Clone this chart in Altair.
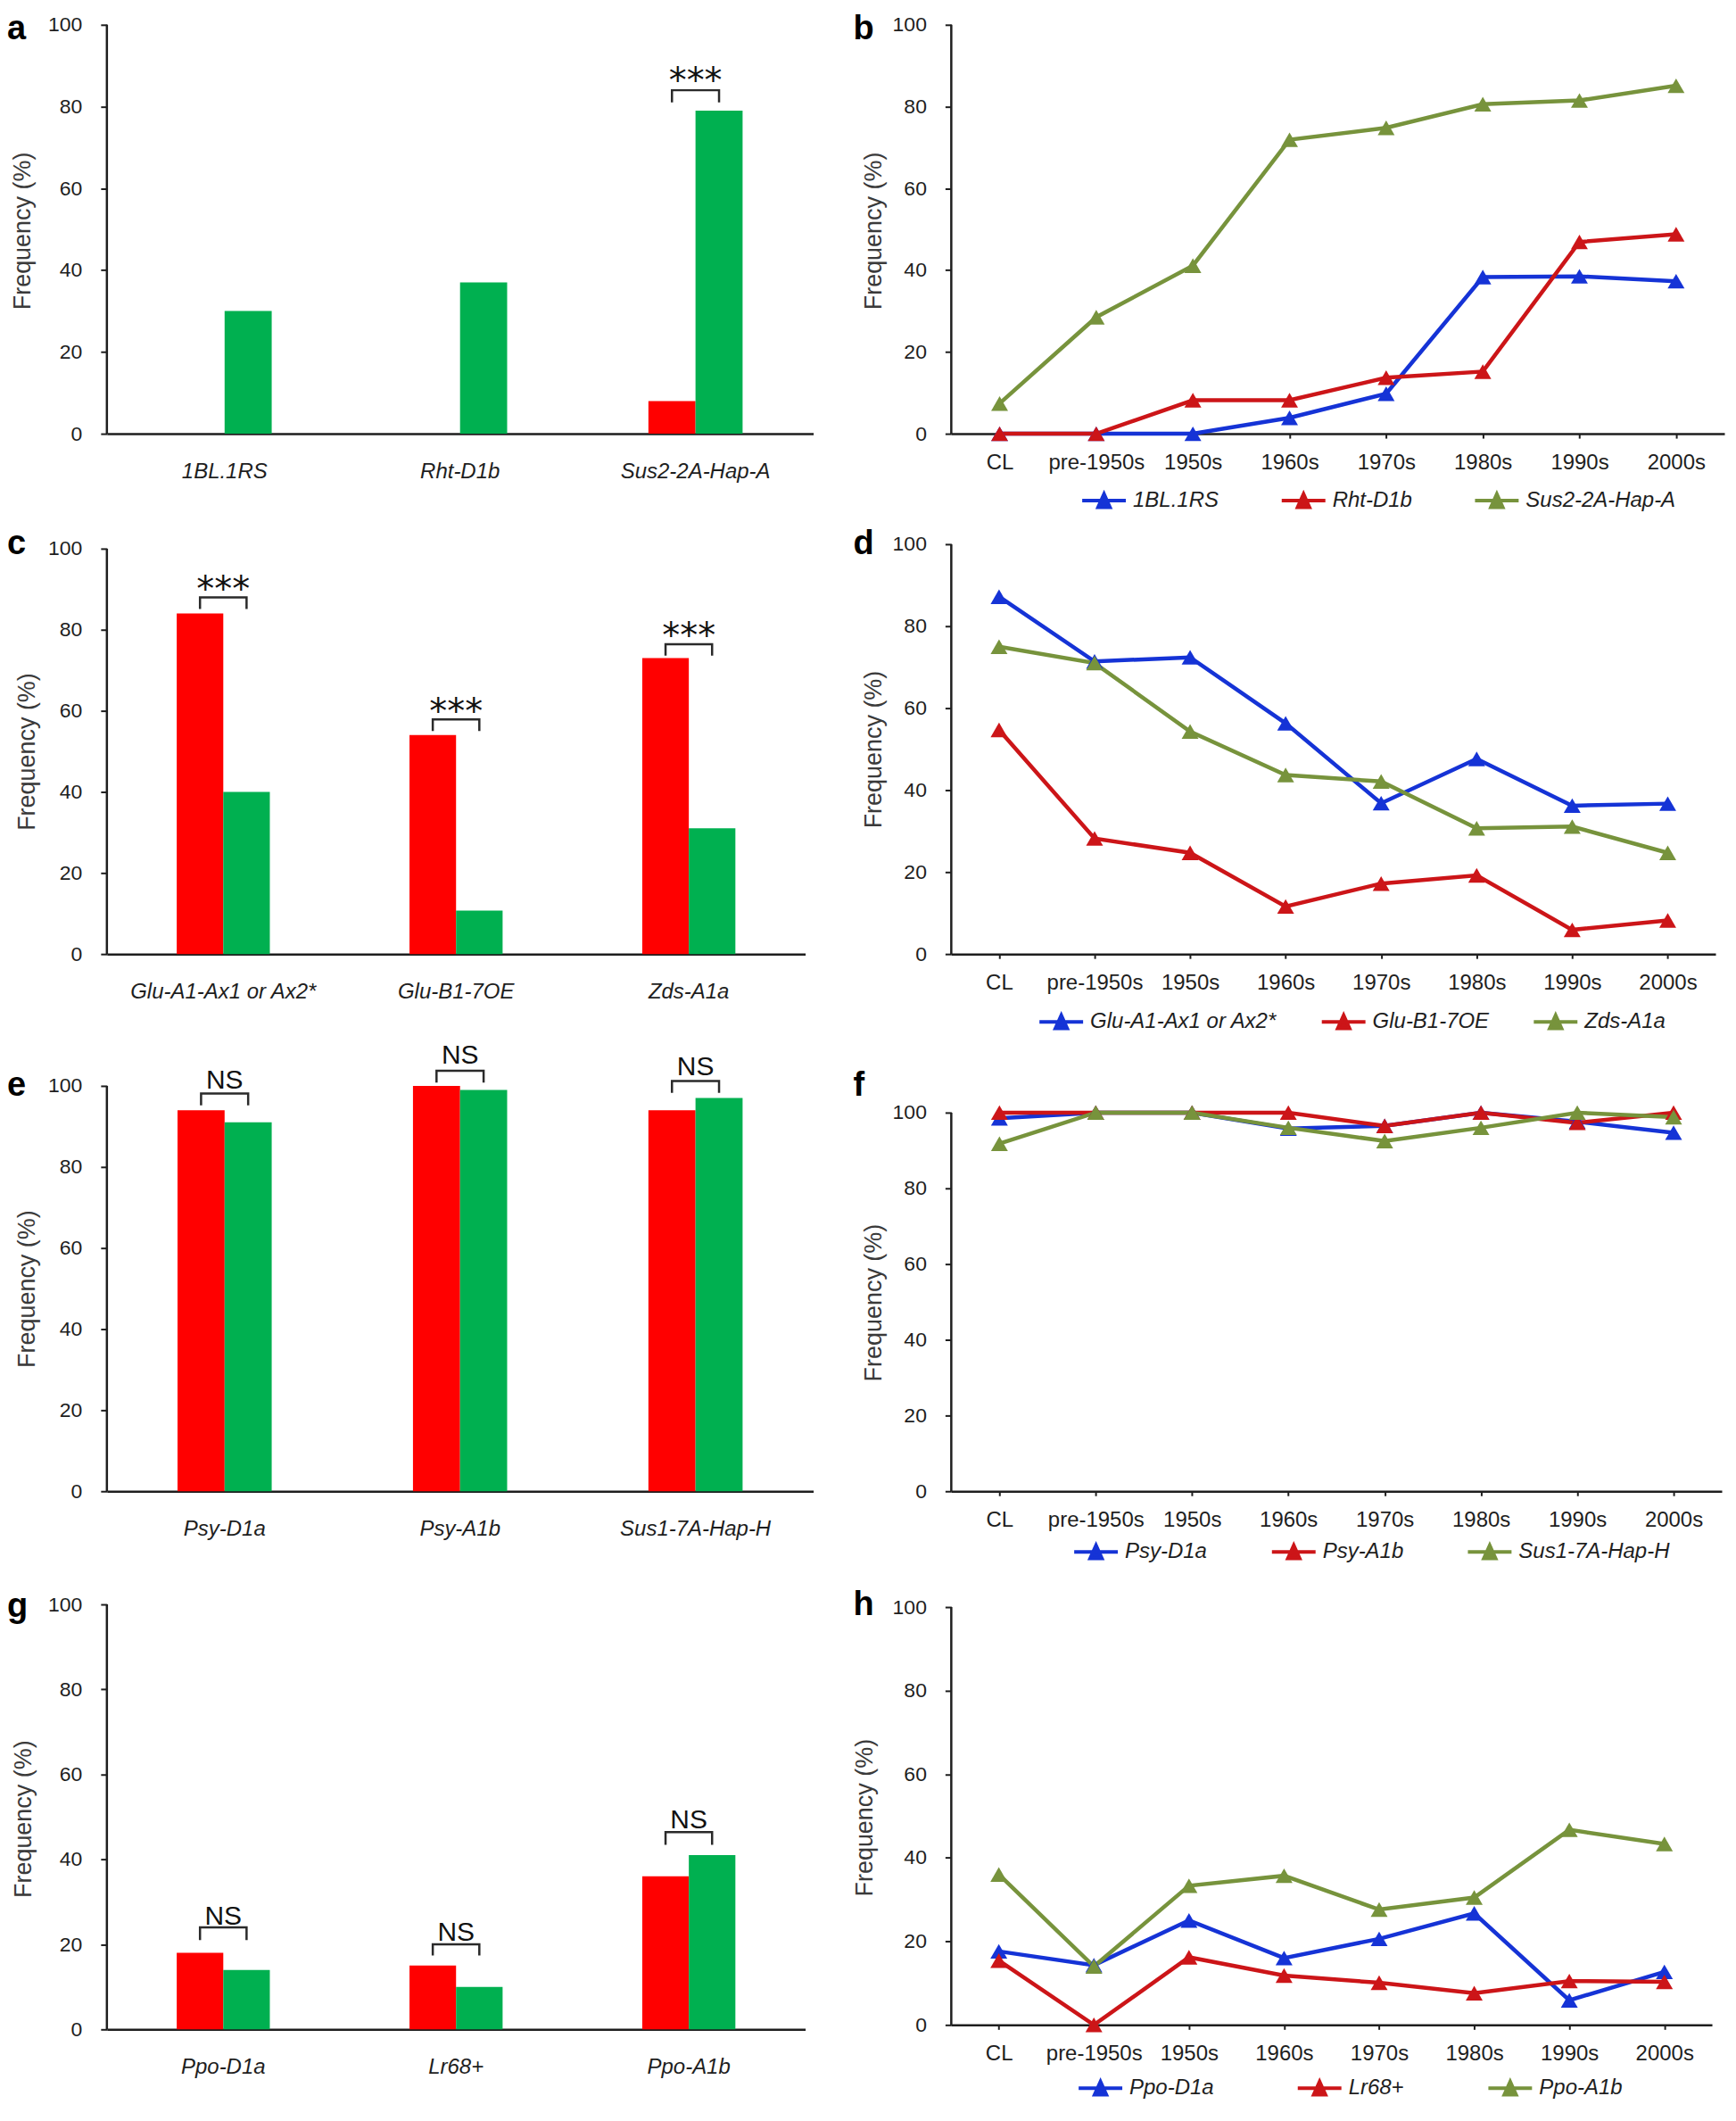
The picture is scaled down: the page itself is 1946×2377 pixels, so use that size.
import altair as alt
import pandas as pd

FONT = "Liberation Sans"
DARK = "#1e1e1e"
TITLE_C = "#3a3a3a"
BAR_RED = "#FF0000"
BAR_GREEN = "#00B050"
LINE_COLORS = ["#1533D6", "#CC1518", "#77933C"]
YTICKS = [0, 20, 40, 60, 80, 100]

decades = ["CL", "pre-1950s", "1950s", "1960s", "1970s", "1980s", "1990s", "2000s"]

# ---- panel a ----
a_genes = ["1BL.1RS", "Rht-D1b", "Sus2-2A-Hap-A"]
a_red = [0, 0, 8]
a_green = [30, 37, 79]
a_br_cat = ["Sus2-2A-Hap-A"]
a_br_top = [84]
a_br_bot = [81]
a_br_txt = ["***"]
a_br_ty = [86.7]

# ---- panel b ----
b_series = ["1BL.1RS", "Rht-D1b", "Sus2-2A-Hap-A"]
b_s1 = [0, 0, 0, 3.9, 9.8, 38.3, 38.5, 37.3]
b_s2 = [0, 0, 8.2, 8.2, 13.7, 15.2, 46.9, 48.8]
b_s3 = [7.4, 28.5, 41.1, 71.9, 74.8, 80.6, 81.5, 85.1]

# ---- panel c ----
c_genes = ["Glu-A1-Ax1 or Ax2*", "Glu-B1-7OE", "Zds-A1a"]
c_red = [84, 54, 73]
c_green = [40, 10.7, 31]
c_br_cat = ["Glu-A1-Ax1 or Ax2*", "Glu-B1-7OE", "Zds-A1a"]
c_br_top = [88, 57.9, 76.4]
c_br_bot = [85.1, 55, 73.6]
c_br_txt = ["***", "***", "***"]
c_br_ty = [90.5, 60.3, 78.9]

# ---- panel d ----
d_series = ["Glu-A1-Ax1 or Ax2*", "Glu-B1-7OE", "Zds-A1a"]
d_s1 = [87.2, 71.4, 72.4, 56.3, 36.8, 47.6, 36.2, 36.7]
d_s2 = [54.7, 28.2, 24.7, 11.6, 17.2, 19.2, 5.9, 8.2]
d_s3 = [75.0, 71.0, 54.3, 43.7, 42.1, 30.7, 31.1, 24.7]

# ---- panel e ----
e_genes = ["Psy-D1a", "Psy-A1b", "Sus1-7A-Hap-H"]
e_red = [94, 100, 94]
e_green = [91, 99, 97]
e_br_cat = ["Psy-D1a", "Psy-A1b", "Sus1-7A-Hap-H"]
e_br_top = [98.1, 103.7, 101.2]
e_br_bot = [95.2, 100.8, 98.3]
e_br_txt = ["NS", "NS", "NS"]
e_br_ty = [101.7, 107.9, 105.0]

# ---- panel f ----
f_series = ["Psy-D1a", "Psy-A1b", "Sus1-7A-Hap-H"]
f_s1 = [98.5, 100, 100, 95.8, 96.5, 100, 97.6, 94.7]
f_s2 = [100, 100, 100, 100, 96.5, 100, 97.3, 100]
f_s3 = [91.8, 100, 100, 96.0, 92.5, 96.0, 100, 98.8]

# ---- panel g ----
g_genes = ["Ppo-D1a", "Lr68+", "Ppo-A1b"]
g_red = [18, 15, 36]
g_green = [14, 10, 41]
g_br_cat = ["Ppo-D1a", "Lr68+", "Ppo-A1b"]
g_br_top = [24, 20, 46.4]
g_br_bot = [21, 17.4, 43.4]
g_br_txt = ["NS", "NS", "NS"]
g_br_ty = [26.9, 23.1, 49.6]

# ---- panel h ----
h_series = ["Ppo-D1a", "Lr68+", "Ppo-A1b"]
h_s1 = [17.6, 14.3, 25.0, 16.0, 20.6, 26.7, 5.9, 12.7]
h_s2 = [15.4, 0, 16.2, 11.8, 10.1, 7.6, 10.5, 10.3]
h_s3 = [36.0, 14.0, 33.3, 35.7, 27.6, 30.5, 46.7, 43.3]

LEG_PATH = "M-1,0L1,0M-0.27,0.3L0,-0.3L0.27,0.3Z"


def y_axis(title_x, title_y):
    return alt.Axis(title="Frequency (%)", values=YTICKS, domain=False, grid=False,
                    tickSize=7, tickWidth=2, tickColor=DARK,
                    labelFont=FONT, labelFontSize=23, labelColor=DARK, labelPadding=21,
                    titleFont=FONT, titleFontSize=27, titleFontWeight="normal",
                    titleColor=TITLE_C, titleAngle=-90, titleAlign="center",
                    titleBaseline="middle", titleX=title_x, titleY=title_y)


def letter_layer(letter, lx, ly):
    return alt.Chart(pd.DataFrame({"t": [letter]})).mark_text(
        font=FONT, fontSize=38, fontWeight="bold", align="left",
        baseline="alphabetic", color="black").encode(
        x=alt.value(lx), y=alt.value(ly), text="t:N")


def bar_panel(letter, cats, red, green, br_cat, br_top, br_bot, br_txt, br_ty,
              width, height, ymax, tx, ty, lx, ly):
    xs = alt.Scale(type="band", paddingInner=0.6, paddingOuter=0.3)
    ys = alt.Scale(domain=[0, ymax], nice=False, zero=False)
    xaxis = alt.Axis(title=None, labelAngle=0, labelFont=FONT, labelFontSize=24,
                     labelFontStyle="italic", labelColor=DARK, labelPadding=30,
                     labelLimit=500, ticks=False, tickSize=0, domainColor=DARK,
                     domainWidth=2.5, labelOverlap=False)
    yaxis = y_axis(tx, ty)
    n = len(cats)
    bars_df = pd.DataFrame({"cat": cats + cats, "grp": ["R"] * n + ["G"] * n,
                            "val": red + green})
    rows = []
    for c, t, b in zip(br_cat, br_top, br_bot):
        rows += [(c, "R", b, 0), (c, "R", t, 1), (c, "G", t, 2), (c, "G", b, 3)]
    br_df = pd.DataFrame(rows, columns=["cat", "grp", "yv", "ord"])
    txt_df = pd.DataFrame({"cat": br_cat, "txt": br_txt, "ty": br_ty})

    rule = alt.Chart(pd.DataFrame({"y0": [0], "y1": [100]})).mark_rule(
        color=DARK, strokeWidth=2.5).encode(
        x=alt.value(0), y=alt.Y("y0:Q", scale=ys, axis=yaxis), y2="y1:Q")
    bars = alt.Chart(bars_df).mark_bar().encode(
        x=alt.X("cat:N", sort=cats, scale=xs, axis=xaxis),
        xOffset=alt.XOffset("grp:N", sort=["R", "G"],
                            scale=alt.Scale(paddingInner=0, paddingOuter=0)),
        y=alt.Y("val:Q", scale=ys, axis=yaxis),
        color=alt.Color("grp:N", scale=alt.Scale(domain=["R", "G"],
                                                 range=[BAR_RED, BAR_GREEN]),
                        legend=None))
    brackets = alt.Chart(br_df).mark_line(color="#2a2a2a", strokeWidth=2.5).encode(
        x=alt.X("cat:N", sort=cats, scale=xs, axis=xaxis),
        xOffset=alt.XOffset("grp:N", sort=["R", "G"]),
        y=alt.Y("yv:Q", scale=ys, axis=yaxis),
        detail="cat:N", order="ord:Q")
    is_star = br_txt[0] == "***"
    texts = alt.Chart(txt_df).mark_text(
        font="DejaVu Sans" if is_star else FONT,
        fontSize=40 if is_star else 30,
        dy=2.5 if is_star else 2, baseline="middle", color="#111111").encode(
        x=alt.X("cat:N", sort=cats, scale=xs, axis=xaxis),
        y=alt.Y("ty:Q", scale=ys, axis=yaxis), text="txt:N")
    return alt.layer(rule, bars, brackets, texts, letter_layer(letter, lx, ly)).properties(
        width=width, height=height)


def line_panel(letter, series, s1, s2, s3, width, height, ymax, tx, ty, lx, ly,
               legx, legy, colpad):
    xs = alt.Scale(type="point", padding=0.5)
    ys = alt.Scale(domain=[0, ymax], nice=False, zero=False)
    xaxis = alt.Axis(title=None, labelAngle=0, labelFont=FONT, labelFontSize=24,
                     labelColor=DARK, labelPadding=15, labelOverlap=False,
                     tickSize=5, tickWidth=2, tickColor=DARK,
                     domainColor=DARK, domainWidth=2.5)
    yaxis = y_axis(tx, ty)
    df = pd.DataFrame({
        "dec": decades * 3,
        "series": [series[0]] * 8 + [series[1]] * 8 + [series[2]] * 8,
        "val": s1 + s2 + s3,
    })
    legend = alt.Legend(title=None, orient="none", legendX=legx, legendY=legy,
                        direction="horizontal", symbolType=LEG_PATH, symbolSize=2401,
                        symbolStrokeWidth=4, symbolOpacity=1, labelFont=FONT,
                        labelFontSize=24, labelFontStyle="italic", labelColor=DARK,
                        labelOffset=6, labelLimit=500, columnPadding=colpad, padding=0)
    rule = alt.Chart(pd.DataFrame({"y0": [0], "y1": [100]})).mark_rule(
        color=DARK, strokeWidth=2.5).encode(
        x=alt.value(0), y=alt.Y("y0:Q", scale=ys, axis=yaxis), y2="y1:Q")
    lines = alt.Chart(df).mark_line(
        strokeWidth=4.5,
        point=alt.OverlayMarkDef(shape="triangle-up", size=360, filled=True, opacity=1)
    ).encode(
        x=alt.X("dec:N", sort=decades, scale=xs, axis=xaxis),
        y=alt.Y("val:Q", scale=ys, axis=yaxis),
        color=alt.Color("series:N", sort=series,
                        scale=alt.Scale(domain=series, range=LINE_COLORS),
                        legend=legend))
    return alt.layer(rule, lines, letter_layer(letter, lx, ly)).properties(
        width=width, height=height)


pa = bar_panel("a", a_genes, a_red, a_green, a_br_cat, a_br_top, a_br_bot, a_br_txt, a_br_ty,
               793, 459, 100, -94, 231, -112, 16)
pb = line_panel("b", b_series, b_s1, b_s2, b_s3, 868, 459, 100, -87, 231, -110, 16,
                145, 507.5, 62)
pc = bar_panel("c", c_genes, c_red, c_green, c_br_cat, c_br_top, c_br_bot, c_br_txt, c_br_ty,
               784, 460, 101.1, -89, 232.5, -112, 11)
pd_ = line_panel("d", d_series, d_s1, d_s2, d_s3, 858, 460, 100, -87, 230, -110, 11,
                 97, 509.5, 42)
pe = bar_panel("e", e_genes, e_red, e_green, e_br_cat, e_br_top, e_br_bot, e_br_txt, e_br_ty,
               793, 479, 105.27, -89, 251.5, -112, 35)
pf = line_panel("f", f_series, f_s1, f_s2, f_s3, 865, 479, 112.71, -87, 267, -110, 35,
                136, 520.5, 64)
pg = bar_panel("g", g_genes, g_red, g_green, g_br_cat, g_br_top, g_br_bot, g_br_txt, g_br_ty,
               784, 480, 100.63, -93, 243.5, -112, 17)
ph = line_panel("h", h_series, h_s1, h_s2, h_s3, 854, 475, 101.28, -97, 242, -110, 15,
                141, 519.5, 86)

chart = alt.concat(
    pa, pb, pc, pd_, pe, pf, pg, ph,
    columns=2, spacing={"row": 124, "column": 155}, bounds="flush", align="each"
).resolve_scale(
    color="independent", xOffset="independent", x="independent", y="independent"
).resolve_legend(color="independent").configure_view(stroke=None).properties(
    padding={"left": 0, "top": 4, "right": 5, "bottom": 5}, background="white")

chart.save("out.html", embed_options={"renderer": "svg", "actions": False})
